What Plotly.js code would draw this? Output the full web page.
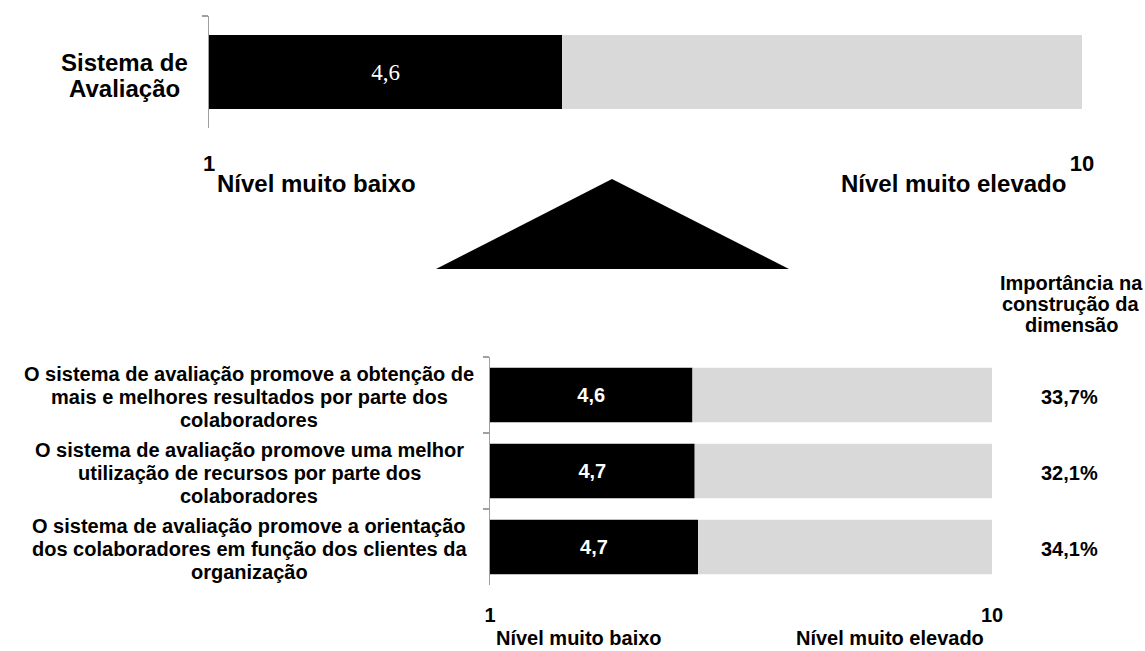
<!DOCTYPE html>
<html>
<head>
<meta charset="utf-8">
<script src="https://cdn.plot.ly/plotly-3.0.1.min.js"></script>
<style>
  html, body { margin: 0; padding: 0; background: #fff; }
  #chart { width: 1145px; height: 651px; }
</style>
</head>
<body>
<div id="chart"></div>
<script>
// ---- data ----
const scaleMin = 1;
const scaleMax = 10;
const scaleTickValues = [1, 10];
const scaleTickLabels = ['1', '10'];
const scaleEndLabels = ['Nível muito baixo', 'Nível muito elevado'];

const topCategory = ['Sistema de Avaliação'];
const topLabelLines = [['Sistema de', 'Avaliação']];
const topValues = [4.64];

const itemLabelLines = [
  ['O sistema de avaliação promove a obtenção de', 'mais e melhores resultados por parte dos', 'colaboradores'],
  ['O sistema de avaliação promove uma melhor', 'utilização de recursos por parte dos', 'colaboradores'],
  ['O sistema de avaliação promove a orientação', 'dos colaboradores em função dos clientes da', 'organização']
];
const itemValues = [4.63, 4.67, 4.73];
const itemImportance = [33.7, 32.1, 34.1];
const importanceHeader = ['Importância na', 'construção da', 'dimensão'];

// ---- helpers ----
const W = 1145, H = 651;
const PX = p => p / W;
const PY = p => 1 - p / H;
const fmt = v => v.toFixed(1).replace('.', ',');
const FONT = 'Liberation Sans, Arial, sans-serif';
const BLACK = '#000000';
const GREY = '#d9d9d9';

const itemCategories = itemLabelLines.map(l => l.join(' '));

const traces = [
  {
    type: 'bar', orientation: 'h', xaxis: 'x', yaxis: 'y',
    y: topCategory, x: topValues.map(v => v - scaleMin), base: scaleMin,
    width: 0.66, marker: { color: BLACK },
    text: topValues.map(fmt), textposition: 'inside', insidetextanchor: 'middle',
    constraintext: 'none', textangle: 0,
    textfont: { family: 'Liberation Serif, Times New Roman, serif', size: 23, color: '#ffffff' },
    hoverinfo: 'skip', showlegend: false
  },
  {
    type: 'bar', orientation: 'h', xaxis: 'x', yaxis: 'y',
    y: topCategory, x: topValues.map(v => scaleMax - v), base: topValues,
    width: 0.66, marker: { color: GREY },
    hoverinfo: 'skip', showlegend: false
  },
  {
    type: 'bar', orientation: 'h', xaxis: 'x2', yaxis: 'y2',
    y: itemCategories, x: itemValues.map(v => v - scaleMin), base: scaleMin,
    width: 0.72, marker: { color: BLACK },
    text: itemValues.map(fmt), textposition: 'inside', insidetextanchor: 'middle',
    constraintext: 'none', textangle: 0,
    textfont: { family: FONT, size: 20, color: '#ffffff', weight: 'bold' },
    hoverinfo: 'skip', showlegend: false
  },
  {
    type: 'bar', orientation: 'h', xaxis: 'x2', yaxis: 'y2',
    y: itemCategories, x: itemValues.map(v => scaleMax - v), base: itemValues,
    width: 0.72, marker: { color: GREY },
    hoverinfo: 'skip', showlegend: false
  }
];

const annotations = [];
const txt = (text, x, y, size, extra) => Object.assign({
  text: text, x: x, y: y, xref: 'paper', yref: 'paper',
  xanchor: 'center', yanchor: 'middle', showarrow: false, borderpad: 0,
  font: { family: FONT, size: size, color: '#000', weight: 'bold' }
}, extra || {});

// top category label
topLabelLines.forEach((lines, ci) => {
  lines.forEach((line, i) => {
    annotations.push(txt(line, PX(124), topCategory[ci], 24, {
      yref: 'y', yshift: -((i - (lines.length - 1) / 2) * 26 + 3)
    }));
  });
});
// top scale end labels
annotations.push(txt(scaleEndLabels[0], PX(316), PY(183), 24));
annotations.push(txt(scaleEndLabels[1], PX(953), PY(183), 24));

// bottom item labels
itemLabelLines.forEach((lines, ci) => {
  lines.forEach((line, i) => {
    annotations.push(txt(line, PX(249), itemCategories[ci], 20, {
      yref: 'y2', yshift: -((i - (lines.length - 1) / 2) * 23 + 2)
    }));
  });
});
// importance header
importanceHeader.forEach((line, i) => {
  annotations.push(txt(line, PX(1071), PY(283 + i * 21), 20));
});
// importance values
itemImportance.forEach((v, ci) => {
  annotations.push(txt(fmt(v) + '%', PX(1069), itemCategories[ci], 20, { yref: 'y2', yshift: -2 }));
});
// bottom scale end labels
annotations.push(txt(scaleEndLabels[0], PX(579), PY(638), 20));
annotations.push(txt(scaleEndLabels[1], PX(890), PY(638), 20));

const xCommon = {
  range: [scaleMin, scaleMax], tickvals: scaleTickValues, ticktext: scaleTickLabels,
  showgrid: false, zeroline: false, showline: false, ticks: '', fixedrange: true
};
const yCommon = {
  type: 'category', showline: true, linecolor: '#a0a0a0', linewidth: 1.3,
  ticks: 'outside', tickson: 'boundaries', ticklen: 6, tickcolor: '#a0a0a0', tickwidth: 1.3,
  showticklabels: false, showgrid: false, zeroline: false, fixedrange: true
};

const layout = {
  width: W, height: H,
  margin: { l: 0, r: 0, t: 0, b: 0 },
  paper_bgcolor: '#ffffff', plot_bgcolor: '#ffffff',
  barmode: 'overlay',
  showlegend: false,
  xaxis: Object.assign({}, xCommon, {
    domain: [PX(209), PX(1082)], anchor: 'y',
    tickfont: { family: FONT, size: 22, color: '#000', weight: 'bold' },
    ticklabelstandoff: 20
  }),
  yaxis: Object.assign({}, yCommon, {
    domain: [PY(128), PY(16)], anchor: 'x'
  }),
  xaxis2: Object.assign({}, xCommon, {
    domain: [PX(490), PX(992)], anchor: 'y2',
    tickfont: { family: FONT, size: 20, color: '#000', weight: 'bold' },
    ticklabelstandoff: 16
  }),
  yaxis2: Object.assign({}, yCommon, {
    domain: [PY(585), PY(357)], anchor: 'x2', autorange: 'reversed'
  }),
  shapes: [{
    type: 'path', xref: 'paper', yref: 'paper',
    path: 'M ' + PX(612) + ' ' + PY(179) + ' L ' + PX(789) + ' ' + PY(269) + ' L ' + PX(436) + ' ' + PY(269) + ' Z',
    fillcolor: '#000000', line: { width: 0 }
  }],
  annotations: annotations
};

Plotly.newPlot('chart', traces, layout, { displayModeBar: false, staticPlot: true });
</script>
</body>
</html>
